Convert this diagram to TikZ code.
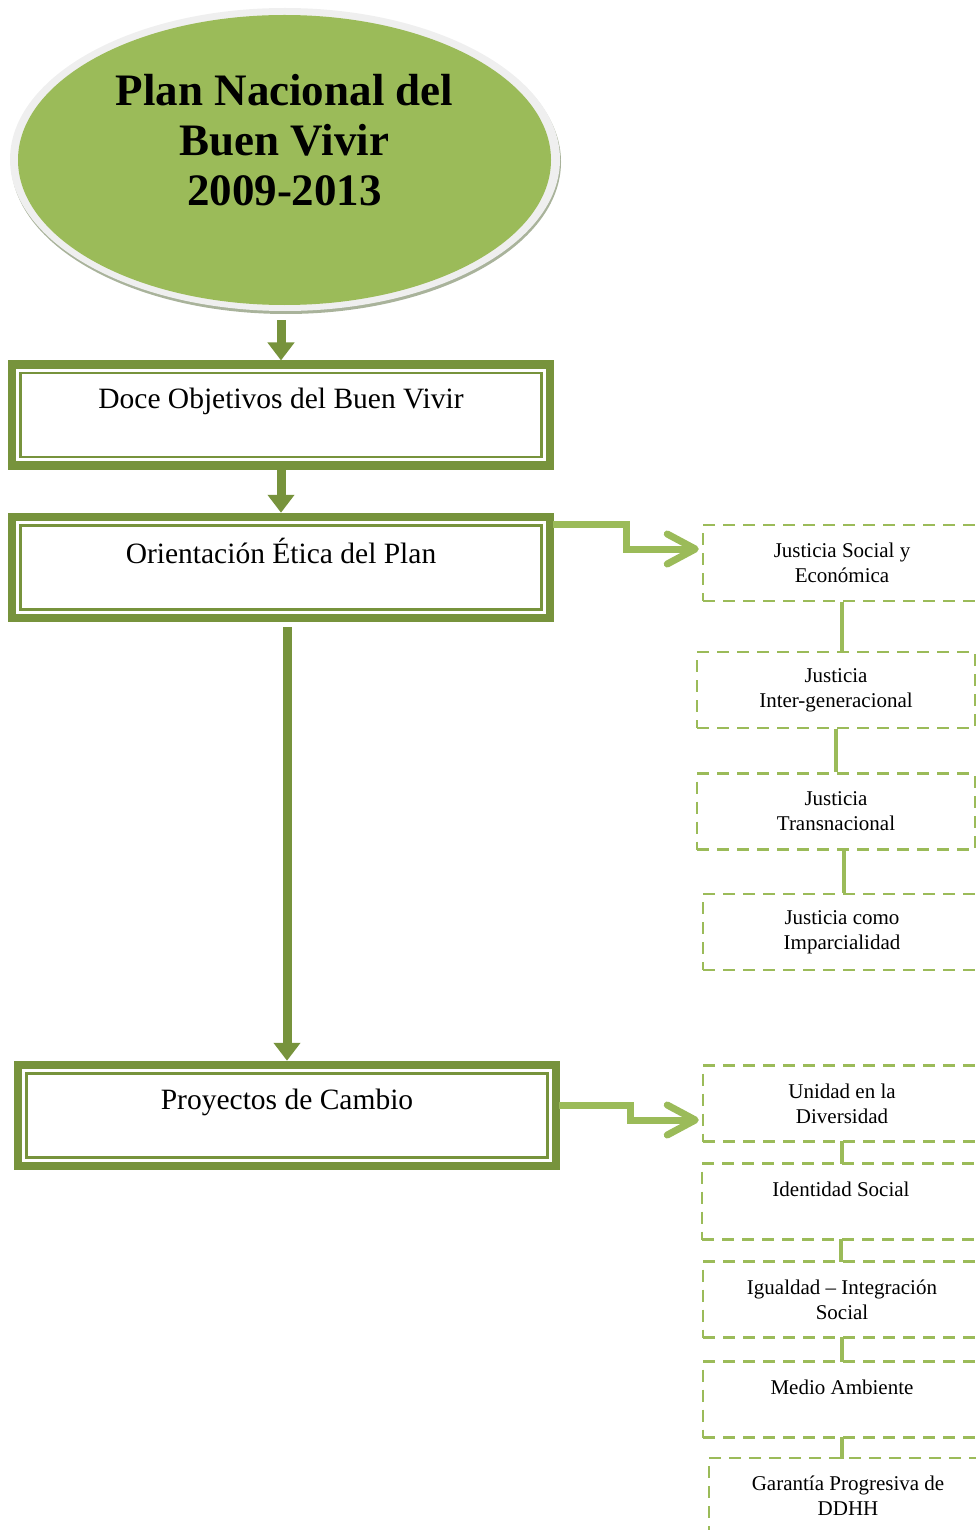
\documentclass[tikz,border=0pt]{standalone}
\usepackage{fontspec}
\setmainfont{Liberation Serif}
\usetikzlibrary{arrows.meta, positioning, shapes.geometric}
\definecolor{dkgreen}{HTML}{77933C}
\definecolor{ltgreen}{HTML}{9BBB59}
\definecolor{ringgray}{HTML}{EFEFEF}
\definecolor{shadowgray}{HTML}{A9B39B}

\begin{document}
\begin{tikzpicture}[x=1pt, y=-1pt,
  mainbox/.style={draw=dkgreen, line width=8.5pt, fill=white, inner sep=0pt,
    minimum width=538pt, minimum height=101pt, align=center,
    font=\fontsize{29.5}{33}\selectfont},
  thinline/.style={draw=dkgreen, line width=2.5pt},
  dbox/.style={draw=ltgreen, line width=2.5pt, dash pattern=on 12pt off 8pt,
    inner sep=0pt, minimum width=278pt, minimum height=76pt, align=center,
    font=\fontsize{21}{25}\selectfont},
  darr/.style={dkgreen, line width=9pt, -{Triangle[length=18pt, width=26pt]}},
  larr/.style={ltgreen, line width=7pt, -{Straight Barb[length=28pt, width=30pt, round]}},
  link/.style={ltgreen, line width=4pt},
]
\useasboundingbox (0,0) rectangle (976,1530);
\clip (0,0) rectangle (976,1530);

%% Title ellipse
\fill[shadowgray] (286,162) ellipse (275 and 152);
\fill[ringgray] (285,159.5) ellipse (275 and 151.5);
\node[ellipse, fill=ltgreen, inner sep=0pt, minimum width=533pt,
      minimum height=290pt] (plan) at (284.5,160) {};
\node[align=center, font=\fontsize{45}{50}\selectfont\bfseries] (titulo)
  at (284.5,140) {Plan Nacional del\\Buen Vivir\\2009-2013};

%% Main boxes (thick frame + thin inner frame)
\node[mainbox] (doce) at (281,415.2) {Doce Objetivos del Buen Vivir\\\mbox{}};
\path[thinline] (doce.north west) ++(12.75,12.75)
  rectangle ([xshift=-12.75pt, yshift=12.75pt]doce.south east);

\node[mainbox] (etica) at (281,567.5) {Orientación Ética del Plan\\\mbox{}};
\path[thinline] (etica.north west) ++(12.75,12.75)
  rectangle ([xshift=-12.75pt, yshift=12.75pt]etica.south east);

\node[mainbox] (proy) at (287,1115.5) {Proyectos de Cambio\\\mbox{}};
\path[thinline] (proy.north west) ++(12.75,12.75)
  rectangle ([xshift=-12.75pt, yshift=12.75pt]proy.south east);

%% Down arrows
\draw[darr] (plan.south -| doce.north) ++(0,15) -- (doce.north);
\draw[darr] (doce.south) -- (etica.north);
\draw[darr] (etica.south -| proy.north) ++(0,5) -- (proy.north);

%% Ethical orientation: four kinds of justice
\node[dbox] (js)  at (842,563)   {Justicia Social y\\Económica};
\node[dbox] (jig) at (836,690)   {Justicia\\Inter-generacional};
\node[dbox] (jt)  at (836,811.5) {Justicia\\Transnacional};
\node[dbox] (ji)  at (842,932)   {Justicia como\\Imparcialidad};

\draw[link] (js.south)  -- (js.south |- jig.north);
\draw[link] (jig.south) -- (jig.south |- jt.north);
\draw[link] ([xshift=8pt]jt.south) -- ([xshift=8pt]jt.south |- ji.north);

\draw[larr] ([xshift=-1pt, yshift=-11.5pt]etica.north east) -- ++(73,0)
  |- ([xshift=-3pt, yshift=14pt]js.west);

%% Projects of change
\node[dbox] (ud) at (842,1103.5) {Unidad en la\\Diversidad};
\node[dbox] (is) at (841,1201.5) {Identidad Social\\\mbox{}};
\node[dbox] (ii) at (842,1299.5) {Igualdad – Integración\\Social};
\node[dbox] (ma) at (842,1399.5) {Medio Ambiente\\\mbox{}};
\node[dbox] (gp) at (848,1496)   {Garantía Progresiva de\\DDHH};

\foreach \a/\b in {ud/is, is/ii, ii/ma, ma/gp} {
  \draw[link] ([yshift=2pt]\a.south) -- ([yshift=-2pt]\a.south |- \b.north);
}

\draw[larr] ([xshift=-1pt, yshift=10.5pt]proy.east) -- ++(71,0)
  |- ([xshift=-3pt, yshift=-16.5pt]ud.west);

\end{tikzpicture}
\end{document}
